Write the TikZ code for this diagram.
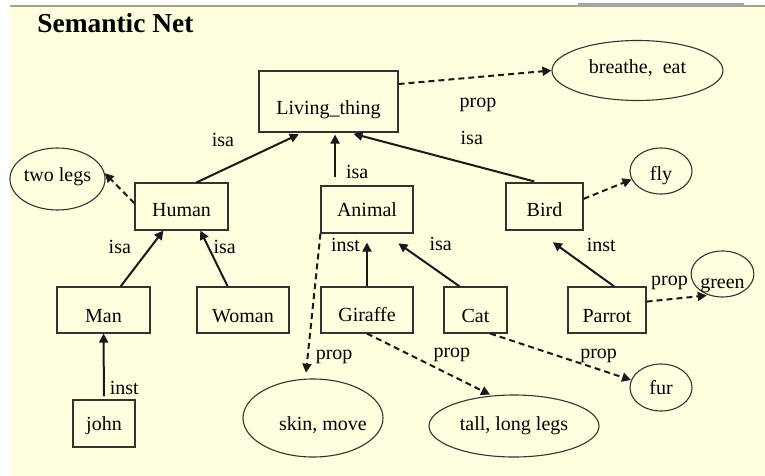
\documentclass[tikz,border=0pt]{standalone}
\usepackage{fontspec}
\setmainfont{Liberation Serif}
\usetikzlibrary{arrows.meta,shapes.geometric,calc}
\definecolor{cream}{RGB}{255,255,224}
\definecolor{rim}{RGB}{165,165,140}
\tikzset{>={Triangle[length=4.5pt,width=4.5pt]},
  cbox/.style={draw=black!80, line width=0.55pt, inner sep=0pt},
  oval/.style={cbox, ellipse},
  drop/.style={text height=#1, text depth=0pt},
  link/.style={->, line width=1pt, draw=black!90},
  plink/.style={link, dash pattern=on 3pt off 2pt},
  lbl/.style={inner sep=0pt}}

\begin{document}
\begin{tikzpicture}[x=0.5pt, y=-0.5pt]
  \useasboundingbox (0,0) rectangle (765,476);
  \fill[cream] (10,6) rectangle (765,476);
  \draw[rim, line width=0.8pt] (10,6) -- (765,6);
  \draw[black!35, line width=1.5pt] (578,4.5) -- (744,4.5);
  \node[anchor=base west, inner sep=0pt, font=\fontsize{13.7}{16}\selectfont\bfseries] (ttl) at (37,33) {Semantic Net};

  % concepts
  \node[cbox, drop=13.5pt, minimum width=69.5pt, minimum height=30.5pt] (lt) at (328.5,101.5) {Living\_thing};
  \node[oval, drop=3pt, minimum width=85.5pt, minimum height=30pt] (be) at (637.5,70.5) {breathe,\ \ eat};
  \node[cbox, drop=10pt, minimum width=46.5pt, minimum height=23.5pt] (hum) at (181.5,206.5) {Human};
  \node[oval, drop=2pt, minimum width=46.5pt, minimum height=31pt] (tl) at (57.5,179) {two legs};
  \node[cbox, drop=6.5pt, minimum width=46pt, minimum height=23.5pt] (ani) at (367,209.5) {Animal};
  \node[cbox, drop=10pt, minimum width=38.5pt, minimum height=23.5pt] (bird) at (544.5,206.5) {Bird};
  \node[oval, drop=9.7pt, minimum width=31pt, minimum height=23pt] (fly) at (661,171) {fly};
  \node[cbox, drop=12.7pt, minimum width=46.5pt, minimum height=23pt] (man) at (103.5,310) {Man};
  \node[cbox, drop=12.7pt, minimum width=46pt, minimum height=23pt] (wom) at (243,310) {Woman};
  \node[cbox, drop=11.7pt, minimum width=46pt, minimum height=23pt] (gir) at (367,310) {Giraffe};
  \node[cbox, drop=12.7pt, minimum width=31.5pt, minimum height=23pt] (cat) at (475.5,310) {Cat};
  \node[cbox, drop=12.7pt, minimum width=39pt, minimum height=23pt] (par) at (607,310) {Parrot};
  \node[oval, drop=14pt, minimum width=30.5pt, minimum height=23pt] (grn) at (722.5,274) {green};
  \node[cbox, drop=6.5pt, minimum width=31pt, minimum height=23.5pt] (john) at (104,423.5) {john};
  \node[oval, drop=12.7pt, minimum width=70pt, minimum height=39pt] (sm) at (313,418) {\makebox[0pt]{\kern10pt skin, move}};
  \node[oval, drop=4pt, minimum width=85pt, minimum height=31pt] (tll) at (514,426) {tall, long legs};
  \node[oval, drop=7pt, minimum width=31pt, minimum height=23.5pt] (fur) at (661,387.5) {fur};

  % links
  \draw[plink] (lt.14) -- (be.west) node[lbl, pos=.52, below=10pt] {prop};
  \draw[link, shorten >=2pt] (hum.58) -- (lt.230) node[lbl, pos=.25, above=11pt] {isa};
  \draw[link, shorten <=4pt, shorten >=1pt] (ani.143) -- (ani.143 |- lt.south) node[lbl, pos=.25, right=5pt] {isa};
  \draw[link, shorten <=2pt, shorten >=2.5pt] (bird.105) -- (lt.-57) node[lbl, pos=.35, above=9.5pt] {isa};
  \draw[plink] (hum.176) -- (tl.7);
  \draw[plink] (bird.11) -- (fly.196);
  \draw[link] (man.54) -- (hum.233) node[lbl, pos=.7, left=9.3pt] {isa};
  \draw[link] (wom.123) -- (hum.-52) node[lbl, pos=.7, right=2pt] {isa};
  \draw[link, shorten >=4.5pt] (gir) -- (ani) node[lbl, pos=.78, left=3pt] {inst};
  \draw[link, shorten >=8.5pt] (cat.124) -- (ani.-54) node[lbl, pos=.8, right=14.5pt] {isa};
  \draw[link, shorten >=10pt] (par.73) -- (bird.252) node[lbl, pos=.74, right=14.5pt] {inst};
  \draw[plink, shorten >=1pt] (par.12) -- (grn.237) node[lbl, pos=.37, above=4pt] {prop};
  \draw[link, shorten <=1.5pt] (john) -- (man) node[lbl, pos=.17, right=2.5pt] {inst};
  \draw[plink, shorten >=3pt] (ani.south west) -- (sm.101) node[lbl, pos=.85, right=3.6pt] {prop};
  \draw[plink, shorten >=1pt] (gir.south) -- (tll.126) node[lbl, pos=.68, above=6.5pt] {prop};
  \draw[plink] (cat.-58) -- (fur.166) node[lbl, pos=.77, above=3pt] {prop};
\end{tikzpicture}
\end{document}
